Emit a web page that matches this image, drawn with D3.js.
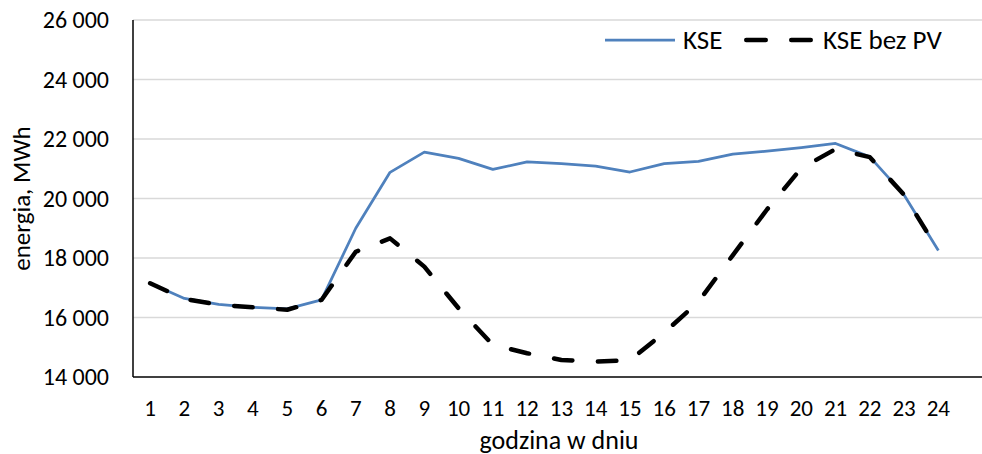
<!DOCTYPE html>
<html>
<head>
<meta charset="utf-8">
<script src="https://cdn.jsdelivr.net/npm/d3@7"></script>
<style>
  html, body { margin: 0; padding: 0; background: #fff; }
  svg { display: block; }
  text { font-family: Carlito, Lato, "Open Sans", sans-serif; fill: #000; }
</style>
</head>
<body>
<svg id="chart" width="982" height="454"></svg>
<script>
// Hours of the day
const hours = d3.range(1, 25);
// Hourly energy demand of the national power system (MWh)
const kse = [17150, 16640, 16440, 16340, 16290, 16590, 19000, 20880, 21560, 21350, 20980, 21230,
             21170, 21090, 20890, 21170, 21250, 21490, 21590, 21710, 21850, 21400, 20120, 18250];
// Same demand with photovoltaic generation added back (MWh)
const kseBezPV = [17150, 16620, 16430, 16340, 16260, 16590, 18210, 18660, 17710, 16310, 15080, 14800,
                  14570, 14520, 14560, 15490, 16530, 18090, 19630, 21020, 21660, 21390, 20120, 18250];
const yTicks = [14000, 16000, 18000, 20000, 22000, 24000, 26000];
const seriesNames = ["KSE", "KSE bez PV"];

const W = 982, H = 454;
const plotLeft = 133, plotTop = 20, plotBottom = 377, plotRight = 955.5, gridRight = 982;
const yTickFS = "24px", xTickFS = "23px", labelFS = "27px", xTitleFS = "26px", yTitleFS = "25px";

const svg = d3.select("#chart");

const x = d3.scaleBand().domain(hours).range([plotLeft, plotRight]);
const y = d3.scaleLinear().domain([14000, 26000]).range([plotBottom, plotTop]);
const cx = h => x(h) + x.bandwidth() / 2;

const fmt = v => d3.format(",")(v).replace(/,/g, " ");

// Horizontal gridlines
svg.append("g")
  .selectAll("line")
  .data(yTicks.filter(v => v !== 14000))
  .join("line")
  .attr("x1", plotLeft).attr("x2", gridRight)
  .attr("y1", d => y(d)).attr("y2", d => y(d))
  .attr("stroke", "#d9d9d9").attr("stroke-width", 1.5);

// Y axis labels
const yAxis = svg.append("g")
  .attr("transform", `translate(${plotLeft},0)`)
  .call(d3.axisLeft(y).tickValues(yTicks).tickFormat(fmt).tickSize(0).tickPadding(24));
yAxis.select(".domain").remove();
yAxis.attr("font-family", null).attr("font-size", null);
yAxis.selectAll("text").style("font-size", yTickFS);

// X axis labels
const xAxis = svg.append("g")
  .attr("transform", `translate(0,${plotBottom})`)
  .call(d3.axisBottom(x).tickSize(0).tickPadding(23));
xAxis.select(".domain").remove();
xAxis.attr("font-family", null).attr("font-size", null);
xAxis.selectAll("text").style("font-size", xTickFS);

// Axis lines
svg.append("line")
  .attr("x1", plotLeft).attr("x2", plotLeft).attr("y1", plotTop).attr("y2", plotBottom)
  .attr("stroke", "#000").attr("stroke-width", 1.5);
svg.append("line")
  .attr("x1", plotLeft).attr("x2", gridRight).attr("y1", plotBottom).attr("y2", plotBottom)
  .attr("stroke", "#000").attr("stroke-width", 1.5);

// Series lines
const line = d3.line().x((d, i) => cx(hours[i])).y(d => y(d));

svg.append("path")
  .datum(kse)
  .attr("d", line)
  .attr("fill", "none")
  .attr("stroke", "#4F81BD")
  .attr("stroke-width", 2.75)
  .attr("stroke-linejoin", "round");

svg.append("path")
  .datum(kseBezPV)
  .attr("d", line)
  .attr("fill", "none")
  .attr("stroke", "#000")
  .attr("stroke-width", 4.5)
  .attr("stroke-linecap", "round")
  .attr("stroke-linejoin", "round")
  .attr("stroke-dasharray", "18.5 25.5");

// Legend
const legY = 40;
svg.append("line")
  .attr("x1", 605).attr("x2", 675).attr("y1", legY).attr("y2", legY)
  .attr("stroke", "#4F81BD").attr("stroke-width", 2.75);
svg.append("text")
  .attr("x", 683).attr("y", legY).attr("dy", "0.34em")
  .style("font-size", labelFS).text(seriesNames[0]);
svg.append("line")
  .attr("x1", 746.25).attr("x2", 810.75).attr("y1", legY).attr("y2", legY)
  .attr("stroke", "#000").attr("stroke-width", 4.5)
  .attr("stroke-linecap", "round")
  .attr("stroke-dasharray", "19.5 25.5");
svg.append("text")
  .attr("x", 823).attr("y", legY).attr("dy", "0.34em")
  .style("font-size", labelFS).text(seriesNames[1]);

// Axis titles
svg.append("text")
  .attr("x", 559).attr("y", 448.5)
  .attr("text-anchor", "middle")
  .style("font-size", xTitleFS)
  .text("godzina w dniu");
svg.append("text")
  .attr("transform", `translate(30,${(plotTop + plotBottom) / 2}) rotate(-90)`)
  .attr("text-anchor", "middle")
  .style("font-size", yTitleFS)
  .text("energia, MWh");
</script>
</body>
</html>
